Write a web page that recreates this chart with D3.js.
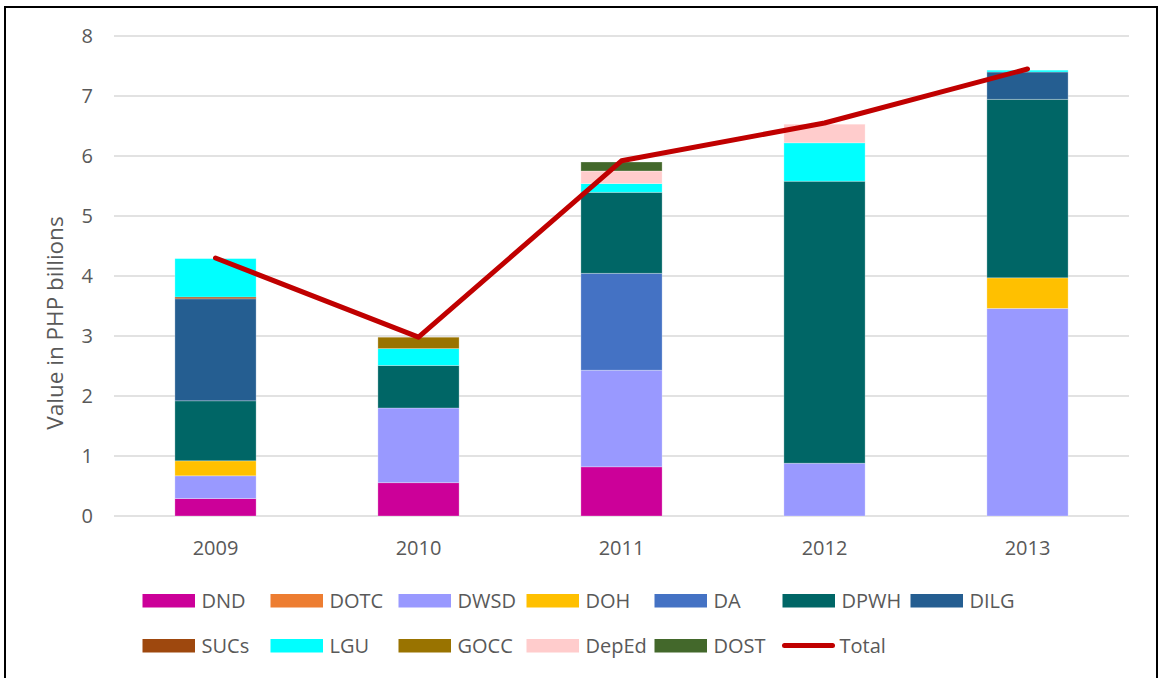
<!DOCTYPE html>
<html>
<meta charset="utf-8">
<script src="https://d3js.org/d3.v7.min.js"></script>
<style>
  body { margin: 0; background: #fff; }
  text { font-family: "Open Sans", sans-serif; fill: #595959; }
</style>
<body>
<div id="my_dataviz"></div>

<script>
// data (PHP billions)
var years = ["2009", "2010", "2011", "2012", "2013"];
var agencies = ["DND", "DOTC", "DWSD", "DOH", "DA", "DPWH", "DILG", "SUCs", "LGU", "GOCC", "DepEd", "DOST"];

var DND   = [0.29, 0.555, 0.82, 0, 0];
var DOTC  = [0, 0, 0, 0, 0];
var DWSD  = [0.38, 1.245, 1.61, 0.88, 3.46];
var DOH   = [0.25, 0, 0, 0, 0.51];
var DA    = [0, 0, 1.615, 0, 0];
var DPWH  = [1.00, 0.71, 1.35, 4.70, 2.975];
var DILG  = [1.70, 0, 0, 0, 0.455];
var SUCs  = [0.03, 0, 0, 0, 0];
var LGU   = [0.64, 0.28, 0.145, 0.64, 0.03];
var GOCC  = [0, 0.19, 0, 0, 0];
var DepEd = [0, 0, 0.21, 0.31, 0];
var DOST  = [0, 0, 0.15, 0, 0];
var Total = [4.30, 2.98, 5.92, 6.55, 7.45];

var yTicks = [0, 1, 2, 3, 4, 5, 6, 7, 8];

var colors = ["#cc0099", "#ed7d31", "#9999ff", "#ffc000", "#4472c4", "#006666",
              "#255e91", "#9e480e", "#00ffff", "#997300", "#ffcccc", "#43682b"];

var seriesVals = [DND, DOTC, DWSD, DOH, DA, DPWH, DILG, SUCs, LGU, GOCC, DepEd, DOST];

// build rows for d3.stack
var rows = years.map(function(y, i) {
  var r = { year: y };
  agencies.forEach(function(a, k) { r[a] = seriesVals[k][i]; });
  return r;
});

var W = 1160, H = 678;
var plot = { left: 114, right: 1129, top: 36, bottom: 516 };

var svg = d3.select("#my_dataviz")
  .append("svg")
    .attr("width", W)
    .attr("height", H);

// outer frame
svg.append("rect")
  .attr("x", 5).attr("y", 7)
  .attr("width", 1152).attr("height", 700)
  .attr("fill", "none")
  .attr("stroke", "#000")
  .attr("stroke-width", 2);

var x = d3.scaleBand()
  .domain(years)
  .range([plot.left, plot.right])
  .paddingInner(0.6)
  .paddingOuter(0.3);

var y = d3.scaleLinear()
  .domain([0, 8])
  .range([plot.bottom, plot.top]);

// gridlines
svg.append("g")
  .selectAll("line")
  .data(yTicks)
  .enter().append("line")
    .attr("x1", plot.left).attr("x2", plot.right)
    .attr("y1", function(d) { return y(d); })
    .attr("y2", function(d) { return y(d); })
    .attr("stroke", "#d9d9d9")
    .attr("stroke-width", 1.5);

// y tick labels
svg.append("g")
  .selectAll("text")
  .data(yTicks)
  .enter().append("text")
    .attr("x", 93)
    .attr("y", function(d) { return y(d); })
    .attr("dy", "0.36em")
    .attr("text-anchor", "end")
    .style("font-size", "20px")
    .text(function(d) { return d; });

// y axis title
svg.append("text")
  .attr("transform", "translate(63,323) rotate(-90)")
  .attr("text-anchor", "middle")
  .style("font-size", "22.5px")
  .text("Value in PHP billions");

// stacked bars
var stacked = d3.stack().keys(agencies)(rows);

svg.append("g")
  .selectAll("g")
  .data(stacked)
  .enter().append("g")
    .attr("fill", function(d, i) { return colors[i]; })
  .selectAll("rect")
  .data(function(d) { return d.filter(function(s) { return s[1] - s[0] > 0; }); })
  .enter().append("rect")
    .attr("x", function(d) { return x(d.data.year); })
    .attr("y", function(d) { return y(d[1]); })
    .attr("width", x.bandwidth())
    .attr("height", function(d) { return y(d[0]) - y(d[1]); })
    .attr("stroke", "#ffffff")
    .attr("stroke-opacity", 0.35)
    .attr("stroke-width", 0.8);

// x labels
svg.append("g")
  .selectAll("text")
  .data(years)
  .enter().append("text")
    .attr("x", function(d) { return x(d) + x.bandwidth() / 2; })
    .attr("y", 555)
    .attr("text-anchor", "middle")
    .style("font-size", "20px")
    .text(function(d) { return d; });

// total line
var line = d3.line()
  .x(function(d, i) { return x(years[i]) + x.bandwidth() / 2; })
  .y(function(d) { return y(d); });

svg.append("path")
  .datum(Total)
  .attr("d", line)
  .attr("fill", "none")
  .attr("stroke", "#c00000")
  .attr("stroke-width", 5)
  .attr("stroke-linecap", "round")
  .attr("stroke-linejoin", "round");

// legend
var legendItems = agencies.concat(["Total"]);
var legend = svg.append("g")
  .selectAll("g")
  .data(legendItems)
  .enter().append("g")
    .attr("transform", function(d, i) {
      return "translate(" + (142.5 + (i % 7) * 128) + "," + (i < 7 ? 594 : 639) + ")";
    });

legend.each(function(d, i) {
  var g = d3.select(this);
  if (d === "Total") {
    g.append("line")
      .attr("x1", 2).attr("x2", 50)
      .attr("y1", 6.5).attr("y2", 6.5)
      .attr("stroke", "#c00000")
      .attr("stroke-width", 5)
      .attr("stroke-linecap", "round");
  } else {
    g.append("rect")
      .attr("width", 52.5).attr("height", 13.5)
      .attr("fill", colors[i]);
  }
  g.append("text")
    .attr("x", d === "Total" ? 57 : 59)
    .attr("y", 14)
    .style("font-size", "20px")
    .text(d);
});
</script>
</body>
</html>
